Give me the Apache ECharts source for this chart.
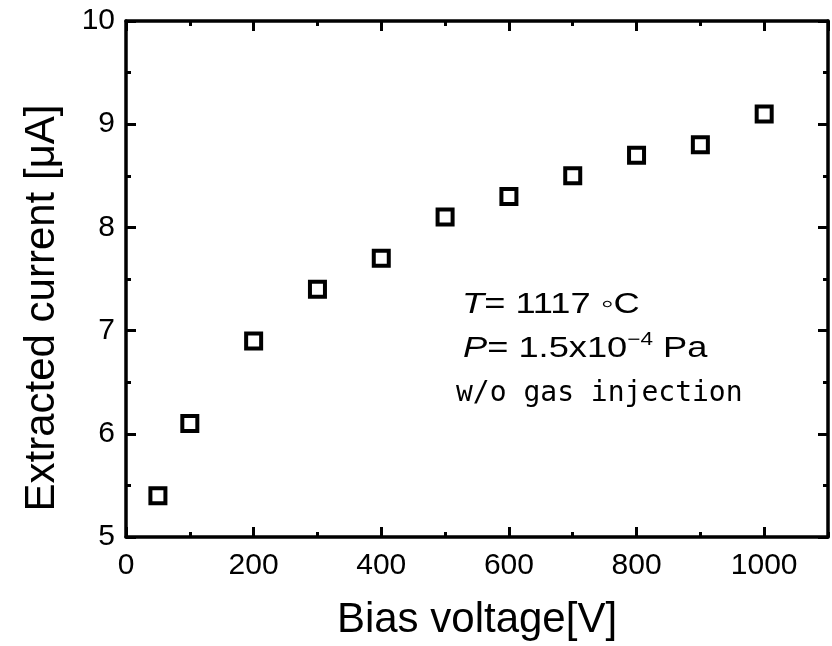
<!DOCTYPE html>
<html><head><meta charset="utf-8">
<script src="https://cdn.jsdelivr.net/npm/echarts@6/dist/echarts.min.js"></script>
<style>html,body{margin:0;padding:0;background:#fff}#c{width:832px;height:646px}</style>
</head><body><div id="c"></div>
<script>
const biasVoltage = [50, 100, 200, 300, 400, 500, 600, 700, 800, 900, 1000];
const extractedCurrent = [5.4, 6.1, 6.9, 7.4, 7.7, 8.1, 8.3, 8.5, 8.7, 8.8, 9.1];
const xTitle = 'Bias voltage[V]';
const yTitle = 'Extracted current [μA]';

const chart = echarts.init(document.getElementById('c'), null, {renderer: 'canvas'});
const font = '"Liberation Sans", Arial, sans-serif';
const lineW = 3.5;
const line = {show: true, onZero: false, lineStyle: {color: '#000', width: lineW}};
const major = {show: true, inside: true, length: 10, lineStyle: {color: '#000', width: 3}};
const minor = {show: true, inside: true, length: 5, lineStyle: {color: '#000', width: 3}};
const xBase = {type: 'value', min: 0, max: 1100, splitLine: {show: false}};
const yBase = {type: 'value', min: 5, max: 10, interval: 1, splitLine: {show: false}};

chart.setOption({
  animation: false,
  backgroundColor: '#fff',
  grid: {left: 126, top: 21, right: 4, bottom: 109, containLabel: false},
  xAxis: [
    Object.assign({}, xBase, {interval: 200, position: 'bottom', axisLine: line, axisTick: major,
      name: xTitle, nameLocation: 'middle', nameGap: 62,
      nameTextStyle: {fontFamily: font, fontSize: 42, color: '#000'},
      axisLabel: {fontFamily: font, fontSize: 30, color: '#000', margin: 14,
        showMaxLabel: false, formatter: v => String(v)}}),
    Object.assign({}, xBase, {interval: 100, position: 'bottom', axisLine: {show: false},
      axisTick: minor, axisLabel: {show: false}}),
    Object.assign({}, xBase, {interval: 200, position: 'top', axisLine: line, axisTick: major,
      axisLabel: {show: false}}),
    Object.assign({}, xBase, {interval: 100, position: 'top', axisLine: {show: false},
      axisTick: minor, axisLabel: {show: false}})
  ],
  yAxis: [
    Object.assign({}, yBase, {position: 'left', axisLine: line, axisTick: major,
      minorTick: Object.assign({splitNumber: 2}, minor),
      name: yTitle, nameLocation: 'middle', nameGap: 63,
      nameTextStyle: {fontFamily: font, fontSize: 42, color: '#000', padding: [0, 58, 0, 0]},
      axisLabel: {fontFamily: font, fontSize: 30, color: '#000', margin: 11}}),
    Object.assign({}, yBase, {position: 'right', axisLine: line, axisTick: major,
      minorTick: Object.assign({splitNumber: 2}, minor),
      axisLabel: {show: false}})
  ],
  series: [{
    type: 'scatter',
    xAxisIndex: 0, yAxisIndex: 0,
    data: biasVoltage.map((v, i) => [v, extractedCurrent[i]]),
    symbol: 'rect',
    symbolSize: 15,
    itemStyle: {color: '#fff', borderColor: '#000', borderWidth: 4, opacity: 1},
    z: 5
  }],
  graphic: [
    {
      type: 'text', x: 462, y: 305, scaleX: 1.25, scaleY: 1,
      style: {
        text: '{i|T}= 1117 ◦C',
        fontFamily: font, fontSize: 29, fill: '#000', verticalAlign: 'middle',
        rich: {i: {fontStyle: 'italic', fontFamily: font, fontSize: 29}}
      }
    },
    {
      type: 'text', x: 463, y: 349, scaleX: 1.25, scaleY: 1,
      style: {
        text: '{i|P}= 1.5x10{s|−4} Pa',
        fontFamily: font, fontSize: 29, fill: '#000', verticalAlign: 'middle',
        rich: {
          i: {fontStyle: 'italic', fontFamily: font, fontSize: 29},
          s: {fontFamily: font, fontSize: 18, padding: [0, 0, 18, 0]}
        }
      }
    },
    {
      type: 'text', x: 456, y: 394,
      style: {
        text: 'w/o gas injection',
        fontFamily: '"DejaVu Sans Mono", "Liberation Mono", monospace', fontSize: 28,
        fill: '#000', verticalAlign: 'middle'
      }
    }
  ]
});
</script></body></html>
